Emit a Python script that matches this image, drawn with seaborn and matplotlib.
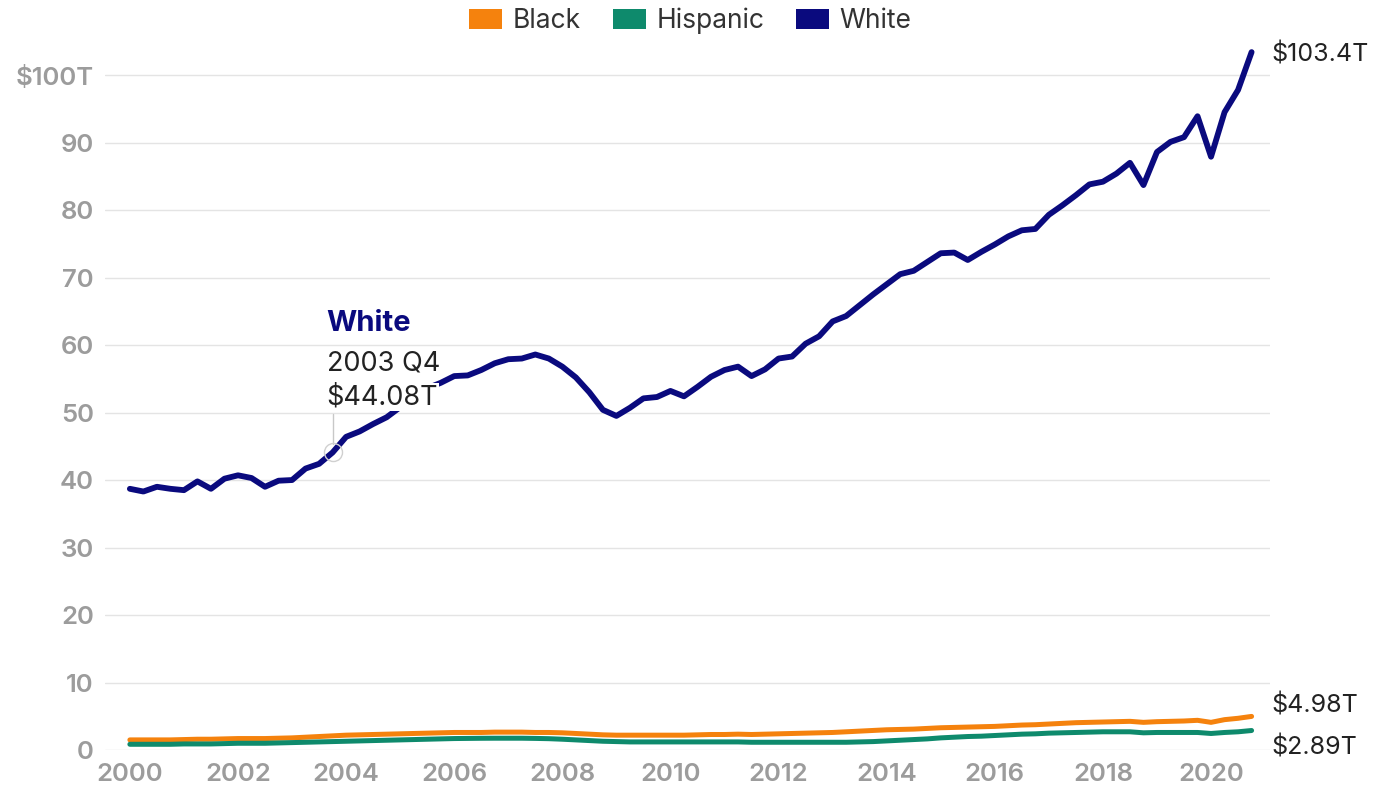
import numpy as np
import pandas as pd
import matplotlib
matplotlib.use("Agg")
import matplotlib.pyplot as plt
from matplotlib.patches import Patch
import seaborn as sns

# quarterly wealth, $ trillions, 2000 Q1 .. 2020 Q4
quarters = [f"{y} Q{q}" for y in range(2000, 2021) for q in range(1, 5)]
white = [38.7, 38.3, 39.0, 38.7, 38.5, 39.8, 38.7, 40.2, 40.7, 40.3, 39.0, 39.9,
         40.0, 41.7, 42.4, 44.08, 46.4, 47.2, 48.3, 49.3, 50.8, 52.3, 53.6, 54.4,
         55.4, 55.5, 56.3, 57.3, 57.9, 58.0, 58.6, 58.0, 56.8, 55.2, 53.0, 50.4,
         49.5, 50.7, 52.1, 52.3, 53.2, 52.4, 53.8, 55.3, 56.3, 56.8, 55.4, 56.4,
         58.0, 58.3, 60.2, 61.3, 63.5, 64.3, 65.9, 67.5, 69.0, 70.5, 71.0, 72.3,
         73.6, 73.7, 72.6, 73.8, 74.9, 76.1, 77.0, 77.2, 79.3, 80.7, 82.2, 83.8,
         84.2, 85.4, 87.0, 83.7, 88.6, 90.1, 90.8, 93.9, 87.9, 94.5, 97.8, 103.4]
black = [1.5, 1.5, 1.5, 1.5, 1.55, 1.6, 1.6, 1.65, 1.7, 1.7, 1.7, 1.75,
         1.8, 1.9, 2.0, 2.1, 2.2, 2.25, 2.3, 2.35, 2.4, 2.45, 2.5, 2.55,
         2.6, 2.6, 2.6, 2.65, 2.65, 2.65, 2.6, 2.6, 2.55, 2.45, 2.35, 2.25,
         2.2, 2.2, 2.2, 2.2, 2.2, 2.2, 2.25, 2.3, 2.3, 2.35, 2.3, 2.35,
         2.4, 2.45, 2.5, 2.55, 2.6, 2.7, 2.8, 2.9, 3.0, 3.05, 3.1, 3.2,
         3.3, 3.35, 3.4, 3.45, 3.5, 3.6, 3.7, 3.75, 3.85, 3.95, 4.05, 4.1,
         4.15, 4.2, 4.25, 4.1, 4.2, 4.25, 4.3, 4.4, 4.1, 4.5, 4.7, 4.98]
hispanic = [0.85, 0.85, 0.85, 0.85, 0.9, 0.9, 0.9, 0.95, 1.0, 1.0, 1.0, 1.05,
            1.1, 1.15, 1.2, 1.25, 1.3, 1.35, 1.4, 1.45, 1.5, 1.55, 1.6, 1.65,
            1.7, 1.72, 1.74, 1.75, 1.75, 1.75, 1.72, 1.68, 1.6, 1.5, 1.4, 1.3,
            1.25, 1.2, 1.2, 1.2, 1.2, 1.2, 1.2, 1.2, 1.2, 1.2, 1.15, 1.15,
            1.15, 1.15, 1.15, 1.15, 1.15, 1.15, 1.2, 1.25, 1.35, 1.45, 1.55, 1.65,
            1.8, 1.9, 2.0, 2.05, 2.15, 2.25, 2.35, 2.4, 2.5, 2.55, 2.6, 2.65,
            2.7, 2.7, 2.7, 2.55, 2.6, 2.6, 2.6, 2.6, 2.45, 2.6, 2.7, 2.89]

groups = ["Black", "Hispanic", "White"]
colors = {"Black": "#F5820D", "Hispanic": "#0E8A6C", "White": "#0A0A7E"}
end_labels = {"Black": "$4.98T", "Hispanic": "$2.89T", "White": "$103.4T"}

t = np.array([int(q[:4]) + (int(q[-1]) - 1) / 4 for q in quarters])
df = pd.concat([
    pd.DataFrame({"t": t, "wealth": black, "group": "Black"}),
    pd.DataFrame({"t": t, "wealth": hispanic, "group": "Hispanic"}),
    pd.DataFrame({"t": t, "wealth": white, "group": "White"}),
])

sns.set_style("white")
plt.rcParams["font.family"] = ["Inter", "DejaVu Sans"]

fig = plt.figure(figsize=(13.78, 7.99), dpi=100)
ax = fig.add_axes([0.0762, 0.0613, 0.9216 - 0.0762, 0.887])

for g in groups:
    sub = df[df["group"] == g]
    sns.lineplot(data=sub, x="t", y="wealth", color=colors[g], ax=ax,
                 linewidth=4.2 if g == "White" else 3.6, legend=False,
                 solid_capstyle="round", solid_joinstyle="round", zorder=3)

ax.set_xlim(1999.54, 2021.09)
ax.set_ylim(0, 105)
ax.set_yticks(range(0, 101, 10))
ax.set_yticklabels([str(v) if v < 100 else "$100T" for v in range(0, 101, 10)])
ax.set_xticks(range(2000, 2021, 2))
ax.grid(axis="y", color="#e4e4e4", linewidth=1)
ax.grid(axis="x", visible=False)
for s in ax.spines.values():
    s.set_visible(False)
ax.tick_params(axis="both", length=0, labelsize=18.5, labelcolor="#9c9c9c")
ax.tick_params(axis="y", pad=8)
ax.tick_params(axis="x", pad=9)
for lab in ax.get_xticklabels() + ax.get_yticklabels():
    lab.set_fontweight("semibold")
ax.set_xlabel("")
ax.set_ylabel("")

# end-of-series labels
offsets = {"Black": 8, "Hispanic": -12, "White": -2}
last = {"Black": black[-1], "Hispanic": hispanic[-1], "White": white[-1]}
for g in groups:
    ax.annotate(end_labels[g], xy=(t[-1], last[g]), xytext=(14, offsets[g]),
                textcoords="offset points", fontsize=18, color="#222222",
                va="center", ha="left", annotation_clip=False)

# hover annotation at 2003 Q4
hx, hy = t[15], white[15]
ax.plot([hx, hx], [hy + 1.3, 49.8], color="#c8c8c8", linewidth=1, zorder=2)
ax.plot([hx], [hy], marker="o", markersize=13, markerfacecolor="none",
        markeredgecolor="#d0d0d0", markeredgewidth=1, zorder=4)
box = dict(facecolor="white", edgecolor="none", pad=1)
ax.text(2003.64, 63.2, "White", color=colors["White"], fontsize=21,
        fontweight="bold", va="center", ha="left", zorder=5)
ax.text(2003.64, 57.3, quarters[15], color="#222222", fontsize=19.5,
        va="center", ha="left", zorder=5, bbox=box)
ax.text(2003.64, 52.3, "$%.2fT" % hy, color="#222222", fontsize=19.5,
        va="center", ha="left", zorder=5, bbox=box)

handles = [Patch(facecolor=colors[g], edgecolor="none", label=g) for g in groups]
fig.legend(handles=handles, loc="center", bbox_to_anchor=(0.501, 0.974), ncol=3,
           frameon=False, fontsize=19, handlelength=1.25, handleheight=0.83,
           columnspacing=1.2, handletextpad=0.4, labelcolor="#333333")

fig.savefig("out.png", dpi=100)
